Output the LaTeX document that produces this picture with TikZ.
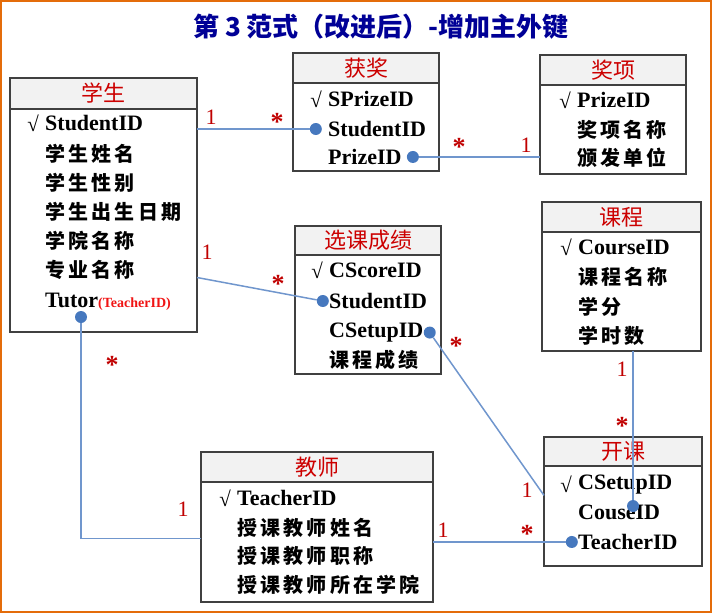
\documentclass[tikz,border=0pt]{standalone}
\usepackage{fontspec}
\setmainfont{Liberation Serif}
\newfontfamily\zhfont{Noto Sans CJK SC}
\newfontfamily\zhspaced{Noto Sans CJK SC}[LetterSpace=16]
\usetikzlibrary{positioning}
\definecolor{cframe}{RGB}{228,108,10}
\definecolor{ctitle}{RGB}{0,0,150}
\definecolor{chead}{RGB}{204,0,0}
\definecolor{cfk}{RGB}{240,20,20}
\definecolor{clink}{RGB}{112,150,205}
\definecolor{cdot}{RGB}{70,120,190}
\definecolor{cmult}{RGB}{192,0,0}
\tikzset{
  titlefont/.style={text=ctitle,inner sep=0pt,font=\zhfont\bfseries\fontsize{26}{28}\selectfont},
  tblhead/.style={draw=black!75,line width=1.2pt,fill=gray!10,anchor=north west,
    inner sep=0pt,outer sep=0pt,minimum height=30pt,text=chead,
    font=\zhfont\fontsize{22}{24}\selectfont},
  tblbody/.style={draw=black!75,line width=1.2pt,inner sep=0pt,outer sep=0pt},
  fld/.style={anchor=base west,inner sep=1pt,font=\bfseries\fontsize{22}{24}\selectfont},
  zhfld/.style={anchor=base west,inner sep=1pt,font=\zhspaced\bfseries\fontsize{20}{22}\selectfont},
  pkmark/.style={inner sep=0pt,font=\bfseries\fontsize{21}{22}\selectfont},
  fkdot/.style={circle,fill=cdot,inner sep=0pt,minimum size=12pt},
  link/.style={draw=clink,line width=1.5pt},
  one/.style={text=cmult,inner sep=0pt,font=\fontsize{22}{24}\selectfont},
  many/.style={text=cmult,inner sep=0pt,font=\bfseries\fontsize{26}{28}\selectfont}
}
\begin{document}
\begin{tikzpicture}[x=1pt,y=-1pt]
  \useasboundingbox (0,0) rectangle (712,613);
  \draw[cframe,line width=2pt] (1,1) rectangle (710.5,611.5);
  \node[titlefont] (title) at (381,27) {第 3 范式（改进后）-增加主外键};

  % 学生
  \node[tblhead,minimum width=187pt,minimum height=31pt] (xsh) at (10,78) {学生};
  \node[tblbody,minimum width=187pt,minimum height=223pt,below=0pt of xsh] (xsb) {};
  \node[fld] (xs1) at (44,130.5) {StudentID};
  \node[pkmark,left=5pt of xs1] (xs0) {√};
  \node[zhfld] (xs2) at (44,161.5) {学生姓名};
  \node[zhfld] (xs3) at (44,190.5) {学生性别};
  \node[zhfld] (xs4) at (44,219.5) {学生出生日期};
  \node[zhfld] (xs5) at (44,248.5) {学院名称};
  \node[zhfld] (xs6) at (44,277.5) {专业名称};
  \node[fld] (xs7) at (44,307.5) {Tutor{\color{cfk}\fontsize{14}{16}\selectfont(TeacherID)}};

  % 获奖
  \node[tblhead,minimum width=146pt] (hjh) at (293,53) {获奖};
  \node[tblbody,minimum width=146pt,minimum height=88pt,below=0pt of hjh] (hjb) {};
  \node[fld] (hj1) at (327,106.5) {SPrizeID};
  \node[pkmark,left=5pt of hj1] (hj0) {√};
  \node[fld] (hj2) at (327,136.5) {StudentID};
  \node[fld] (hj3) at (327,164.5) {PrizeID};

  % 奖项
  \node[tblhead,minimum width=146pt] (jxh) at (540,55) {奖项};
  \node[tblbody,minimum width=146pt,minimum height=89pt,below=0pt of jxh] (jxb) {};
  \node[fld] (jx1) at (576,107.5) {PrizeID};
  \node[pkmark,left=5pt of jx1] (jx0) {√};
  \node[zhfld] (jx2) at (576,137.5) {奖项名称};
  \node[zhfld] (jx3) at (576,165.5) {颁发单位};

  % 选课成绩
  \node[tblhead,minimum width=146pt,minimum height=29pt] (xkh) at (295,226) {选课成绩};
  \node[tblbody,minimum width=146pt,minimum height=119pt,below=0pt of xkh] (xkb) {};
  \node[fld] (xk1) at (328,277.5) {CScoreID};
  \node[pkmark,left=5pt of xk1] (xk0) {√};
  \node[fld] (xk2) at (328,308.5) {StudentID};
  \node[fld] (xk3) at (328,337.5) {CSetupID};
  \node[zhfld] (xk4) at (328,367.5) {课程成绩};

  % 课程
  \node[tblhead,minimum width=159pt] (kch) at (542,202) {课程};
  \node[tblbody,minimum width=159pt,minimum height=119pt,below=0pt of kch] (kcb) {};
  \node[fld] (kc1) at (577,254.5) {CourseID};
  \node[pkmark,left=5pt of kc1] (kc0) {√};
  \node[zhfld] (kc2) at (577,284.5) {课程名称};
  \node[zhfld] (kc3) at (577,314.5) {学分};
  \node[zhfld] (kc4) at (577,343.5) {学时数};

  % 教师
  \node[tblhead,minimum width=232pt] (jsh) at (201,452) {教师};
  \node[tblbody,minimum width=232pt,minimum height=120pt,below=0pt of jsh] (jsb) {};
  \node[fld] (js1) at (236,505.5) {TeacherID};
  \node[pkmark,left=5pt of js1] (js0) {√};
  \node[zhfld] (js2) at (236,535.5) {授课教师姓名};
  \node[zhfld] (js3) at (236,563.5) {授课教师职称};
  \node[zhfld] (js4) at (236,592.5) {授课教师所在学院};

  % 开课
  \node[tblhead,minimum width=158pt,minimum height=29pt] (kkh) at (544,437) {开课};
  \node[tblbody,minimum width=158pt,minimum height=100pt,below=0pt of kkh] (kkb) {};
  \node[fld] (kk1) at (577,489.5) {CSetupID};
  \node[pkmark,left=5pt of kk1] (kk0) {√};
  \node[fld] (kk2) at (577,519.5) {CouseID};
  \node[fld] (kk3) at (577,549.5) {TeacherID};

  % foreign key dots
  \node[fkdot,left=5pt of hj2] (hjd2) {};
  \node[fkdot,right=4pt of hj3] (hjd3) {};
  \node[fkdot,left=-1pt of xk2] (xkd2) {};
  \node[fkdot,right=-1pt of xk3] (xkd3) {};
  \node[fkdot] (kkd2) at (633,506) {};
  \node[fkdot,left=-1pt of kk3] (kkd3) {};
  \node[fkdot] (xsd7) at (81,317) {};

  % links
  \draw[link] (hjd2) -- (hjd2 -| xsb.east);
  \draw[link] (xkd2) -- (xs6.base -| xsb.east);
  \draw[link] (hjd3) -- (hjd3 -| jxb.west);
  \draw[link] (xkd3) -- (kkb.west |- kk1.south);
  \draw[link] (kkd2) -- (kkd2 |- kcb.south);
  \draw[link] (xsd7) |- (jsb.west |- js2.south);
  \draw[link] (kkd3) -- (kkd3 -| jsb.east);

  % multiplicities
  \node[one] (m1a) at (211,117) {1};
  \node[many] (m1b) at (277,122) {*};
  \node[one] (m2a) at (207,252) {1};
  \node[many] (m2b) at (278,284) {*};
  \node[many] (m3a) at (459,147) {*};
  \node[one] (m3b) at (526,145) {1};
  \node[many] (m4a) at (456,346) {*};
  \node[one] (m4b) at (527,490) {1};
  \node[one] (m5a) at (622,369) {1};
  \node[many,anchor=south] (m5b) at (622,435) {*};
  \node[many] (m6a) at (112,365) {*};
  \node[one] (m6b) at (183,509) {1};
  \node[one] (m7a) at (443,530) {1};
  \node[many] (m7b) at (527,534) {*};
\end{tikzpicture}
\end{document}
